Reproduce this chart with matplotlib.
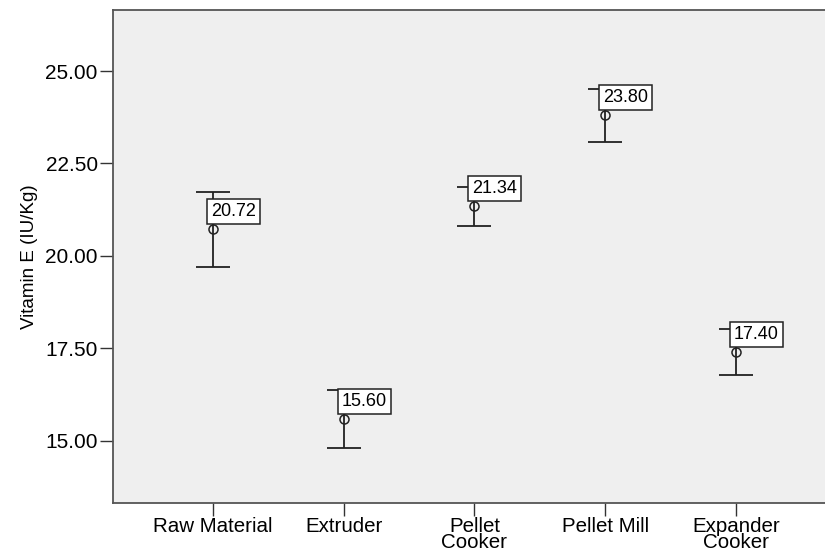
import matplotlib.pyplot as plt
import numpy as np

# Mean vitamin E and error bar half-widths
categories = ["Raw Material", "Extruder", "Pellet\nCooker", "Pellet Mill", "Expander\nCooker"]
means = [20.72, 15.60, 21.34, 23.80, 17.40]
errors = [1.02, 0.78, 0.52, 0.72, 0.63]
yticks = [15.00, 17.50, 20.00, 22.50, 25.00]

plt.rcParams['font.family'] = ['Liberation Sans', 'DejaVu Sans']

fig = plt.figure(figsize=(8.25, 5.55), dpi=100)
ax = fig.add_axes([113 / 825, 1 - 503 / 555, 723 / 825, 493 / 555])
ax.set_facecolor('#efefef')

x = np.arange(len(categories))
ax.errorbar(x, means, yerr=errors, fmt='none', ecolor='#222222',
            elinewidth=1.3, capsize=12, capthick=1.3, zorder=2)
ax.plot(x, means, 'o', ms=6.5, mfc='none', mec='#222222', mew=1.1, zorder=3)

# Value labels in white boxes
for xi, m in zip(x, means):
    ax.annotate(f"{m:.2f}", (xi, m), xytext=(-1.5, 6.5), textcoords='offset points',
                ha='left', va='bottom', fontsize=13, color='black', zorder=4,
                bbox=dict(boxstyle='square,pad=0.22', fc='white', ec='#222222', lw=1.1))

ax.set_xlim(-0.763, 4.763)
ax.set_ylim(13.32, 26.65)
ax.set_xticks(x)
ax.set_yticks(yticks)
ax.set_yticklabels([f"{t:.2f}" for t in yticks], fontsize=15)
ax.tick_params(axis='both', direction='out', length=9.5, width=1.0, color='#333333', pad=1.5)
ax.set_xticklabels(categories, fontsize=14.8, linespacing=0.82)
ax.tick_params(axis='x', pad=0.5)
ax.set_ylabel("Vitamin E (IU/Kg)", fontsize=13.5, labelpad=5)

for side in ax.spines.values():
    side.set_color('#555555')
    side.set_linewidth(1.3)

fig.savefig('out.png', dpi=100)
